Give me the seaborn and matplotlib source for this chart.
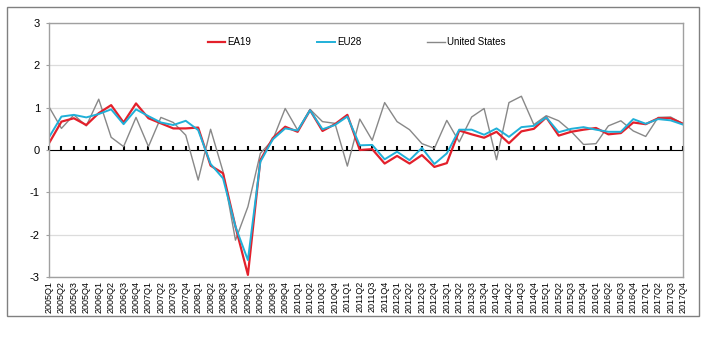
import numpy as np
import pandas as pd
import matplotlib
matplotlib.use("Agg")
import matplotlib.pyplot as plt
import seaborn as sns
from matplotlib.patches import Rectangle
from matplotlib.lines import Line2D

years = list(range(2005, 2018))
quarters = [f"{y}Q{q}" for y in years for q in range(1, 5)]

ea19 = [0.16, 0.67, 0.75, 0.59, 0.87, 1.06, 0.65, 1.10, 0.75, 0.63, 0.51, 0.51,
        0.53, -0.37, -0.55, -1.81, -2.95, -0.24, 0.28, 0.55, 0.43, 0.94, 0.45, 0.61,
        0.83, 0.00, 0.02, -0.32, -0.14, -0.32, -0.12, -0.40, -0.31, 0.46, 0.37, 0.29,
        0.43, 0.16, 0.44, 0.50, 0.77, 0.34, 0.43, 0.48, 0.52, 0.37, 0.40, 0.65,
        0.61, 0.75, 0.75, 0.62]
eu28 = [0.30, 0.79, 0.83, 0.77, 0.85, 0.96, 0.61, 0.96, 0.80, 0.65, 0.59, 0.69,
        0.47, -0.33, -0.67, -1.81, -2.60, -0.28, 0.25, 0.51, 0.46, 0.94, 0.49, 0.59,
        0.79, 0.11, 0.12, -0.22, -0.04, -0.24, 0.05, -0.33, -0.08, 0.48, 0.48, 0.36,
        0.51, 0.31, 0.54, 0.57, 0.77, 0.42, 0.50, 0.54, 0.48, 0.43, 0.43, 0.73,
        0.62, 0.73, 0.70, 0.60]
us = [1.02, 0.51, 0.83, 0.57, 1.20, 0.30, 0.08, 0.77, 0.08, 0.77, 0.65, 0.35,
      -0.71, 0.49, -0.51, -2.13, -1.34, -0.08, 0.24, 0.98, 0.47, 0.96, 0.67, 0.63,
      -0.38, 0.73, 0.23, 1.12, 0.67, 0.48, 0.15, 0.04, 0.70, 0.19, 0.78, 0.98,
      -0.23, 1.12, 1.27, 0.60, 0.81, 0.69, 0.44, 0.13, 0.15, 0.57, 0.69, 0.45,
      0.32, 0.77, 0.78, 0.62]

series_names = ["EA19", "EU28", "United States"]
colors = {"EA19": "#e3202b", "EU28": "#20b0d8", "United States": "#888888"}
widths = {"EA19": 1.6, "EU28": 1.4, "United States": 1.0}

df = pd.DataFrame({"quarter": quarters, "idx": np.arange(len(quarters)),
                   "EA19": ea19, "EU28": eu28, "United States": us})
long = df.melt(id_vars=["quarter", "idx"], var_name="series", value_name="value")

plt.rcParams["font.family"] = ["Liberation Sans", "DejaVu Sans"]
fig = plt.figure(figsize=(7.18, 3.37), dpi=100)
fig.patch.set_facecolor("white")
ax = fig.add_axes([49/718, 1-277/337, (683-49)/718, (277-23)/337])

for name in ["United States", "EA19", "EU28"]:
    sub = long[long["series"] == name]
    sns.lineplot(data=sub, x="idx", y="value", ax=ax, color=colors[name],
                 linewidth=widths[name], legend=False)

ax.set_xlim(0, len(quarters) - 1)
ax.set_ylim(-3, 3)
ax.set_yticks(range(-3, 4))
ax.set_yticklabels([str(v) for v in range(-3, 4)], fontsize=8)
ax.set_xticks(df["idx"])
ax.set_xticklabels(quarters, rotation=90, fontsize=6.5)
ax.tick_params(axis="x", length=0, pad=3)
ax.tick_params(axis="y", length=2.5, color="#a0a0a0", pad=4)
ax.set_xlabel("")
ax.set_ylabel("")
for v in [-3, -2, -1, 1, 2, 3]:
    ax.axhline(v, color="#dcdcdc", lw=0.9, zorder=0)
for s in ax.spines.values():
    s.set_color("#a0a0a0")
    s.set_linewidth(1.0)

# zero axis with tick marks
sec = ax.secondary_xaxis(0.5)
sec.set_xticks(df["idx"])
sec.set_xticklabels([])
sec.tick_params(axis="x", direction="out", length=3, width=1.5, color="black")
sec.spines["bottom"].set_color("black")
sec.spines["bottom"].set_linewidth(2.0)

handles = [Line2D([], [], color=colors[n], lw=widths[n]) for n in series_names]
ax.legend(handles, series_names, loc="center", bbox_to_anchor=(0.485, 0.925),
          ncol=3, frameon=False, fontsize=7, handlelength=1.8, handletextpad=0.2,
          columnspacing=6.8)

fig.add_artist(Rectangle((7/718, 1-316/337), 692/718, 309/337,
                         transform=fig.transFigure, fill=False,
                         edgecolor="#808080", lw=1.0))

fig.savefig("out.png", dpi=100)
